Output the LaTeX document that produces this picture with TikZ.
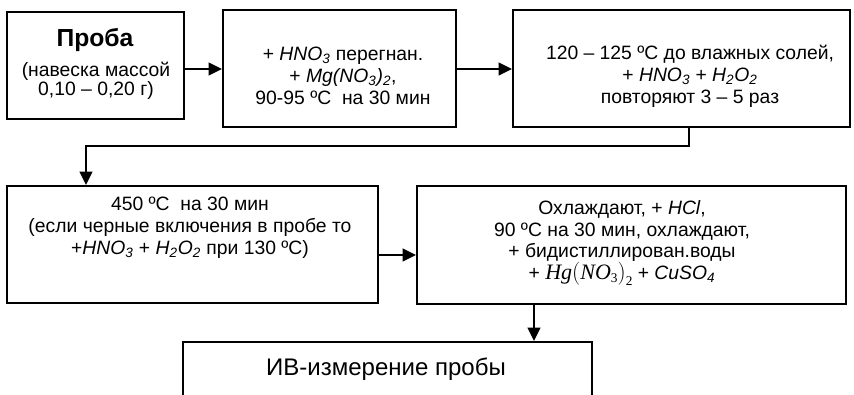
\documentclass[tikz,border=0pt]{standalone}
\usepackage{fontspec}
\setmainfont{Liberation Sans}
\newfontfamily\serifit{Liberation Serif}
\usetikzlibrary{arrows.meta}
\newcommand{\chsub}[1]{\textsubscript{#1}}
\tikzset{
  box/.style={draw, line width=1.5pt, rectangle, inner sep=0pt},
  txt/.style={align=center, inner sep=0pt, font=\fontsize{14.5}{16.5}\selectfont},
  arr/.style={line width=1.5pt, -{Triangle[length=10pt,width=9.5pt]}},
}
\begin{document}
\begin{tikzpicture}[x=0.75pt,y=-0.75pt]
\useasboundingbox (0,0) rectangle (854,394);
\clip (0,0) rectangle (854,394);
% boxes
\node[box, minimum width=177*0.75pt, minimum height=107*0.75pt] (b1) at (95.5,65.5) {};
\node[box, minimum width=233*0.75pt, minimum height=117*0.75pt] (b2) at (339.5,68.5) {};
\node[box, minimum width=337*0.75pt, minimum height=117*0.75pt] (b3) at (681.5,68.5) {};
\node[box, minimum width=371*0.75pt, minimum height=117*0.75pt] (b4) at (192.5,244.5) {};
\node[box, minimum width=429*0.75pt, minimum height=118*0.75pt] (b5) at (631.5,244.5) {};
\node[box, minimum width=409*0.75pt, minimum height=80*0.75pt] (b6) at (387.5,382) {};
% texts
\node[txt, font=\fontsize{18.5}{20}\selectfont\bfseries] (t1a) at (95,40) {Проба};
\node[txt, font=\fontsize{14.5}{14.3}\selectfont] (t1b) at (96,81) {(навеска массой\\0,10 – 0,20 г)};
\node[txt] (t2) at (343,76) {+ \textit{HNO\chsub{3}} перегнан.\\+ \textit{Mg(NO\chsub{3})\chsub{2}},\\90-95 ºС~ на 30 мин};
\node[txt] (t3) at (690,76) {120 – 125 ºС до влажных солей,\\+ \textit{HNO\chsub{3}} + \textit{H\chsub{2}O\chsub{2}}\\повторяют 3 – 5 раз};
\node[txt] (t4) at (190,228) {450 ºС~ на 30 мин\\(если черные включения в пробе то\\+\textit{HNO\chsub{3}} + \textit{H\chsub{2}O\chsub{2}} при 130 ºС)};
\node[txt, font=\fontsize{14.5}{16.1}\selectfont] (t5) at (622,243) {Охлаждают, + \textit{HCl},\\90 ºС на 30 мин, охлаждают,\\+ бидистиллирован.воды\\+ {\serifit\fontsize{16.5}{16}\selectfont\textit{Hg}$\bigl($\textit{NO}\raisebox{-0.35ex}{\fontsize{10}{10}\selectfont 3}$\bigr)$\raisebox{-0.6ex}{\fontsize{10}{10}\selectfont 2}} + \textit{CuSO\chsub{4}}};
\node[txt, font=\fontsize{18}{20}\selectfont] (t6) at (386,369) {ИВ-измерение пробы};
% connectors
\draw[arr] (b1.east |- 0,69) -- (b2.west |- 0,69);
\draw[arr] (b2.east |- 0,69) -- (b3.west |- 0,69);
\coordinate (c1) at (689,146);
\coordinate (c2) at (86,146);
\draw[arr] (b3.south -| c1) -- (c1) -- (c2) -- (c2 |- b4.north);
\draw[arr] (b4.east |- 0,255) -- (b5.west |- 0,255);
\draw[arr] (b5.south -| 534,0) -- (b6.north -| 534,0);
\end{tikzpicture}
\end{document}
